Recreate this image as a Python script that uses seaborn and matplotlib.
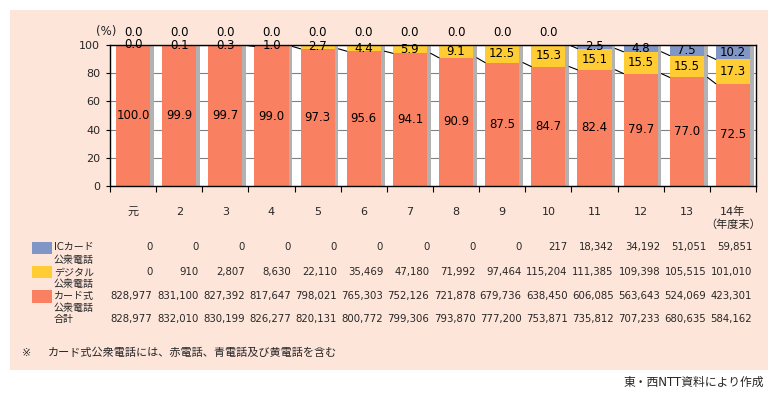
import numpy as np
import matplotlib
matplotlib.use("Agg")
import matplotlib.pyplot as plt
from matplotlib.patches import Rectangle
from matplotlib.transforms import blended_transform_factory
import seaborn as sns

# ── data ───────────────────────────────────────────────────────────────────────
years = ["元", "2", "3", "4", "5", "6", "7", "8", "9", "10",
         "11", "12", "13", "14年\n（年度末）"]

# shares (%)
card_pct    = [100.0, 99.9, 99.7, 99.0, 97.3, 95.6, 94.1, 90.9, 87.5, 84.7,
               82.4, 79.7, 77.0, 72.5]
digital_pct = [0.0, 0.1, 0.3, 1.0, 2.7, 4.4, 5.9, 9.1, 12.5, 15.3,
               15.1, 15.5, 15.5, 17.3]
ic_pct      = [0.0, 0.0, 0.0, 0.0, 0.0, 0.0, 0.0, 0.0, 0.0, 0.0,
               2.5, 4.8, 7.5, 10.2]

# counts (units)
ic_count      = [0, 0, 0, 0, 0, 0, 0, 0, 0, 217,
                 18342, 34192, 51051, 59851]
digital_count = [0, 910, 2807, 8630, 22110, 35469, 47180, 71992, 97464, 115204,
                 111385, 109398, 105515, 101010]
card_count    = [828977, 831100, 827392, 817647, 798021, 765303, 752126, 721878,
                 679736, 638450, 606085, 563643, 524069, 423301]
total_count   = [828977, 832010, 830199, 826277, 820131, 800772, 799306, 793870,
                 777200, 753871, 735812, 707233, 680635, 584162]

C_CARD   = "#FA8062"
C_DIG    = "#FFCC33"
C_IC     = "#8096C6"
C_SHADOW = "#B2B2B2"
C_PANEL  = "#FDE5DA"

sns.set_theme(style="white")
plt.rcParams['font.family'] = ['DejaVu Sans', 'Noto Sans CJK JP']

W, H = 779, 398
fig = plt.figure(figsize=(W / 100, H / 100), dpi=100)
fig.patch.set_facecolor("white")

def fx(px):
    return px / W

def fy(py):
    return 1 - py / H

# pink panel behind everything
fig.patches.append(Rectangle((fx(10), fy(370)), fx(768) - fx(10), fy(10) - fy(370),
                             transform=fig.transFigure, facecolor=C_PANEL,
                             edgecolor="none", zorder=-10))

ax = fig.add_axes([fx(110), fy(186), fx(756) - fx(110), fy(45) - fy(186)])
ax.set_facecolor("white")

n = len(years)
pos = np.arange(n)
card = np.array(card_pct)
dig = np.array(digital_pct)
ic = np.array(ic_pct)
lower = card + dig
top = lower + ic

bw = 0.74
shift = 0.08

# grey drop shadow, then stacked bars back to front
ax.bar(pos + shift, top, width=bw, color=C_SHADOW, linewidth=0, zorder=1)
for heights, col in [(top, C_IC), (lower, C_DIG), (card, C_CARD)]:
    sns.barplot(x=years, y=heights, color=col, saturation=1, width=bw,
                errorbar=None, edgecolor="none", linewidth=0, ax=ax, zorder=2)

# series lines between bars
for i in range(n - 1):
    x0, x1 = i + bw / 2 + shift, i + 1 - bw / 2
    ax.plot([x0, x1], [card[i], card[i + 1]], color="black", lw=0.8, zorder=3)
    ax.plot([x0, x1], [lower[i], lower[i + 1]], color="black", lw=0.8, zorder=3)

# value labels
lab = dict(ha="center", va="center", fontsize=8.5, color="black", zorder=5)
for i in range(n):
    ax.text(i, card[i] / 2, f"{card[i]:.1f}", **lab)
    ax.text(i, card[i] + dig[i] / 2, f"{dig[i]:.1f}", **lab)
    if ic[i] > 0:
        ax.text(i, lower[i] + ic[i] / 2, f"{ic[i]:.1f}", **lab)
    else:
        ax.text(i, 109, f"{ic[i]:.1f}", clip_on=False, **lab)

ax.set_xlim(-0.5, n - 0.5)
ax.set_ylim(0, 100)
ax.set_xlabel("")
ax.set_ylabel("")
ax.set_yticks(range(0, 101, 20))
ax.yaxis.grid(True, color="#808080", lw=0.8)
ax.xaxis.grid(False)
ax.set_axisbelow(True)
ax.set_xticks(pos, years)
ax.set_xticks(np.arange(n + 1) - 0.5, minor=True)
ax.tick_params(axis="x", which="major", bottom=False, pad=9, labelsize=8)
ax.tick_params(axis="x", which="minor", bottom=True, length=4, width=0.8,
               direction="out", color="black")
ax.tick_params(axis="y", left=True, length=3, width=0.8, direction="out",
               color="black", pad=4, labelsize=8)
for s in ax.spines.values():
    s.set_color("black")
    s.set_linewidth(1)

fig.text(fx(106), fy(32), "(%)", ha="center", va="center", fontsize=8.5)

# table under the chart
trans = blended_transform_factory(ax.transData, fig.transFigure)
for vals, py in [(ic_count, 247), (digital_count, 272),
                 (card_count, 296), (total_count, 319)]:
    for i, v in enumerate(vals):
        ax.text(i + 0.42, fy(py), f"{v:,}", transform=trans, ha="right",
                va="center", fontsize=7.3, clip_on=False)

for col, y0, y1 in [(C_IC, 242, 254), (C_DIG, 266, 278), (C_CARD, 290, 303)]:
    fig.patches.append(Rectangle((fx(32), fy(y1)), fx(52) - fx(32), fy(y0) - fy(y1),
                                 transform=fig.transFigure, facecolor=col,
                                 edgecolor="none"))

row_labels = [("ICカード", 247), ("公衆電話", 260), ("デジタル", 272), ("公衆電話", 284),
              ("カード式", 296), ("公衆電話", 308), ("合計", 319)]
for txt, py in row_labels:
    fig.text(fx(54), fy(py), txt, ha="left", va="center", fontsize=7.2)

fig.text(fx(22), fy(353), "※", ha="left", va="center", fontsize=8)
fig.text(fx(48), fy(353), "カード式公衆電話には、赤電話、青電話及び黄電話を含む",
         ha="left", va="center", fontsize=8)
fig.text(fx(764), fy(382), "東・西NTT資料により作成", ha="right", va="center",
         fontsize=8.5)

fig.savefig("out.png", dpi=100)
